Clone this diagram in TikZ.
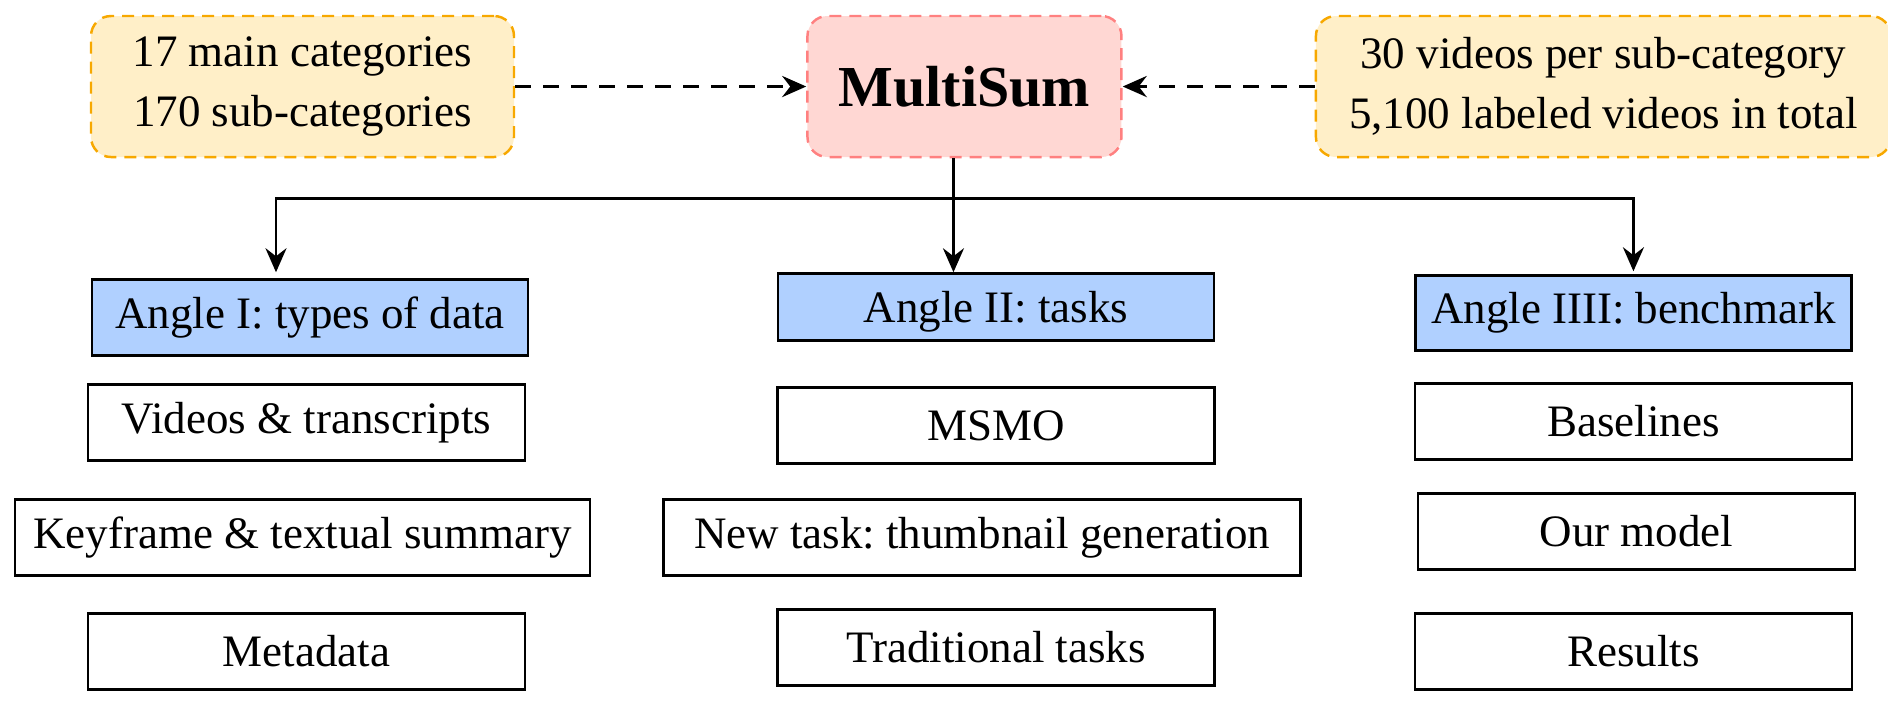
\documentclass[tikz,border=0pt]{standalone}
\usepackage{fontspec}
\setmainfont{Liberation Serif}
\usetikzlibrary{positioning,arrows.meta}
\frenchspacing

\definecolor{infofill}{HTML}{FFEFC8}
\definecolor{infoline}{HTML}{F7A800}
\definecolor{mainfill}{HTML}{FFD7D3}
\definecolor{mainline}{HTML}{FF8080}
\definecolor{anglefill}{HTML}{B0D0FF}

\begin{document}
\begin{tikzpicture}[font=\fontsize{12.8}{17}\selectfont,
    infobox/.style={draw=infoline, fill=infofill, line width=0.7pt,
        dash pattern=on 1.2mm off 0.8mm, rounded corners=2mm,
        align=center, inner sep=0pt, minimum height=1.41cm},
    mainbox/.style={draw=mainline, fill=mainfill, line width=0.7pt,
        dash pattern=on 1.2mm off 0.8mm, rounded corners=2mm,
        inner sep=0pt, minimum width=3.14cm, minimum height=1.41cm,
        font=\fontsize{16.5}{20}\selectfont\bfseries},
    anglebox/.style={draw, fill=anglefill, line width=0.8pt,
        inner sep=0pt, minimum width=4.36cm},
    itembox/.style={draw, fill=white, line width=0.8pt,
        inner sep=0pt, minimum width=4.37cm, minimum height=0.76cm},
    tip/.style={-{Stealth[length=2.4mm, width=2.1mm, inset=0.8mm]}},
    dasharrow/.style={tip, line width=1.1pt, dash pattern=on 1.6mm off 1.2mm},
    treearrow/.style={tip, line width=0.85pt}]

    \useasboundingbox (0,0) rectangle (18.88,-7.00);

    % top row
    \node[infobox, minimum width=4.23cm] (cats) at (3.025,-0.865)
        {17 main categories\\170 sub-categories};
    \node[mainbox, right=2.91cm of cats] (multisum) {MultiSum};
    \node[infobox, minimum width=5.75cm, right=1.92cm of multisum] (videos)
        {30 videos per sub-category\\5,100 labeled videos in total};

    % the three angles
    \node[anglebox, minimum height=0.76cm, below=1.20cm of cats, xshift=0.075cm] (angleone)
        {Angle I: types of data};
    \node[anglebox, minimum height=0.67cm, text depth=0pt, below=1.14cm of multisum, xshift=0.315cm] (angletwo)
        {Angle II: tasks};
    \node[anglebox, minimum height=0.75cm, below=1.16cm of videos, xshift=0.30cm] (anglethree)
        {Angle IIII: benchmark};

    % angle I
    \node[itembox, below=0.26cm of angleone, xshift=-0.035cm] (vid) {Videos \& transcripts};
    \node[itembox, minimum width=5.75cm, below=0.36cm of vid, xshift=-0.04cm] (key)
        {Keyframe \& textual summary};
    \node[itembox, below=0.35cm of key, xshift=0.04cm] (meta) {Metadata};

    % angle II
    \node[itembox, below=0.44cm of angletwo] (msmo) {MSMO};
    \node[itembox, minimum width=6.37cm, below=0.33cm of msmo, xshift=-0.14cm] (thumb)
        {New task: thumbnail generation};
    \node[itembox, below=0.31cm of thumb, xshift=0.14cm] (trad) {Traditional tasks};

    % angle III
    \node[itembox, below=0.30cm of anglethree] (base) {Baselines};
    \node[itembox, below=0.31cm of base, xshift=0.03cm] (ours) {Our model};
    \node[itembox, below=0.41cm of ours, xshift=-0.03cm] (res) {Results};

    % connections
    \draw[dasharrow] (cats) -- (multisum);
    \draw[dasharrow] (videos) -- (multisum);

    \coordinate (split) at ([xshift=-1.1mm, yshift=-4mm]multisum.south);
    \draw[line width=0.85pt] ([xshift=-1.1mm]multisum.south) -- (split);
    \draw[treearrow, shorten >=0.6mm] (split) -| ([xshift=-3.4mm]angleone.north);
    \draw[treearrow] (split) -- (split |- angletwo.north);
    \draw[treearrow, shorten >=0.3mm] (split) -| (anglethree.north);
\end{tikzpicture}
\end{document}
